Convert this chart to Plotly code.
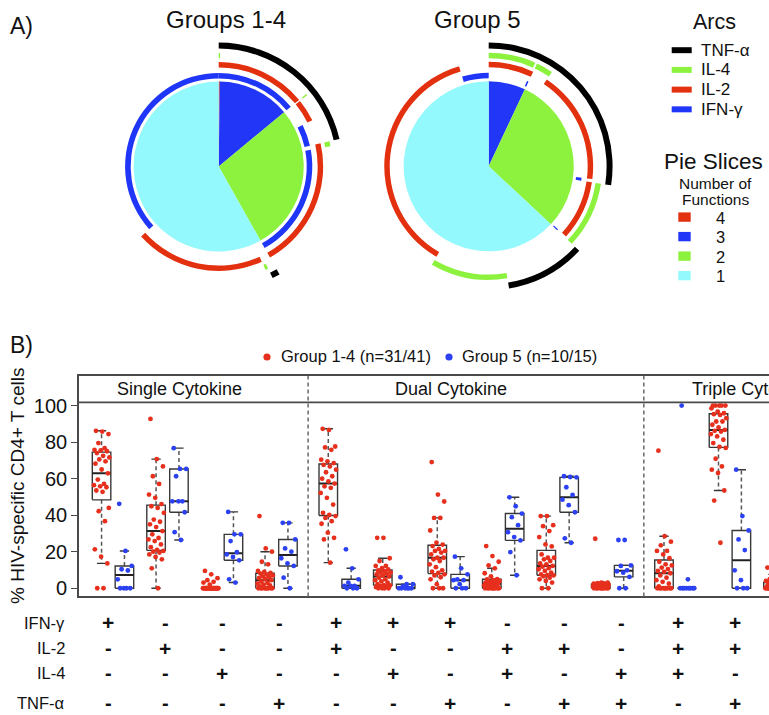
import numpy as np
import plotly.graph_objects as go

W, H = 769, 715
FONT = "Liberation Sans, Arial, Helvetica, sans-serif"

# ---------------------------------------------------------------------------
# Panel A data: share of responding cells per cytokine combination (percent),
# combinations ordered by number of functions, then TNF/IL-4/IL-2/IFN bits.
# ---------------------------------------------------------------------------
PIE_COMBOS = [
    ("IFN-γ", "IL-2", "IL-4", "TNF-α"),
    ("IL-2", "IL-4", "TNF-α"),
    ("IFN-γ", "IL-4", "TNF-α"),
    ("IFN-γ", "IL-2", "TNF-α"),
    ("IFN-γ", "IL-2", "IL-4"),
    ("IL-4", "TNF-α"),
    ("IL-2", "TNF-α"),
    ("IFN-γ", "TNF-α"),
    ("IL-2", "IL-4"),
    ("IFN-γ", "IL-4"),
    ("IFN-γ", "IL-2"),
    ("TNF-α",),
    ("IL-4",),
    ("IL-2",),
    ("IFN-γ",),
]
PIE_GROUP14 = [0.2, 0.0, 0.0, 13.8, 0.0, 0.2, 3.5, 3.75, 0.7, 0.0, 19.7, 1.0, 0.4, 20.1, 36.7]
PIE_GROUP5 = [0.0, 6.72, 0.0, 0.28, 0.0, 2.39, 17.56, 0.5, 9.28, 0.22, 0.0, 10.42, 10.97, 37.08, 4.58]
PIE_TITLES = ["Groups 1-4", "Group 5"]

ARC_ORDER = ["TNF-α", "IL-4", "IL-2", "IFN-γ"]
ARC_COLORS = {"TNF-α": "#000000", "IL-4": "#8df23e", "IL-2": "#e3300f", "IFN-γ": "#1f35f7"}
SLICE_LEVELS = [4, 3, 2, 1]
SLICE_COLORS = {4: "#e3300f", 3: "#2236f8", 2: "#8df23e", 1: "#93f9fc"}

# ---------------------------------------------------------------------------
# Panel B data: % of HIV-specific CD4+ T cells per subject for each combination
# ---------------------------------------------------------------------------
BOX_FACETS = ["Single Cytokine", "Dual Cytokine", "Triple Cytokine"]
BOX_COMBOS = [
    ("Single Cytokine", ("IFN-γ",)),
    ("Single Cytokine", ("IL-2",)),
    ("Single Cytokine", ("IL-4",)),
    ("Single Cytokine", ("TNF-α",)),
    ("Dual Cytokine", ("IFN-γ", "IL-2")),
    ("Dual Cytokine", ("IFN-γ", "IL-4")),
    ("Dual Cytokine", ("IFN-γ", "TNF-α")),
    ("Dual Cytokine", ("IL-2", "IL-4")),
    ("Dual Cytokine", ("IL-2", "TNF-α")),
    ("Dual Cytokine", ("IL-4", "TNF-α")),
    ("Triple Cytokine", ("IFN-γ", "IL-2", "IL-4")),
    ("Triple Cytokine", ("IFN-γ", "IL-2", "TNF-α")),
    ("Triple Cytokine", ("IFN-γ", "IL-4", "TNF-α")),
]
TABLE_ROWS = ["IFN-γ", "IL-2", "IL-4", "TNF-α"]
TABLE_COLUMNS = 12

G14_IFN = [0, 0, 13.6, 17.3, 21.3, 36.7, 42.2, 44.0, 52.8, 53.5, 55.3, 55.8, 56.4, 57.1, 59.5, 62.9,
           65.0, 68.2, 69.5, 70.5, 71.6, 72.5, 74.0, 75.0, 75.5, 75.8, 76.7, 79.5, 84.4, 85.8, 86.2]
G5_IFN = [0, 0, 0, 0, 4.9, 9.7, 10.4, 12.2, 20.4, 46.2]
G14_IL2 = [0, 10.9, 15.8, 17.1, 18.5, 19.5, 20.0, 20.4, 21.0, 22.5, 24.0, 25.8, 26.7, 27.5, 29.5, 31.3,
           33.5, 35.0, 36.4, 37.6, 41.3, 44.0, 44.9, 46.1, 49.5, 51.3, 57.1, 61.3, 66.7, 70.7, 92.7]
G5_IL2 = [26.4, 30.7, 41.6, 47.6, 47.6, 47.6, 61.3, 65.3, 65.3, 76.7]
G14_IL4 = [0, 0, 0, 0, 0, 0, 0, 0, 0, 0, 0, 0, 0, 0, 0, 0,
           0, 0, 0, 0, 0, 0, 0, 0, 2.0, 3.1, 3.5, 4.4, 5.5, 7.6, 9.5]
G5_IL4 = [3.1, 4.9, 15.3, 17.1, 18.5, 19.7, 25.8, 29.5, 29.5, 41.8]
G14_TNF = [0, 0, 0, 0, 0, 0, 0, 0, 0, 1.0, 1.5, 2.0, 2.5, 3.0, 3.6, 4.4,
           5.0, 5.5, 6.0, 6.5, 7.0, 7.5, 8.0, 8.4, 9.0, 9.5, 13.1, 14.5, 20.0, 21.8, 39.5]
G5_TNF = [0, 5.8, 12.2, 13.6, 16.4, 20.0, 21.8, 26.7, 35.8, 35.8]
G14_IFN_IL2 = [14.0, 26.7, 27.6, 30.4, 35.3, 36.7, 38.5, 39.5, 40.1, 41.3, 45.8, 49.5, 52.2, 55.0, 55.8, 57.3,
               58.5, 60.0, 61.3, 63.5, 64.9, 66.7, 67.5, 68.5, 69.5, 70.4, 75.8, 77.1, 77.6, 86.7, 87.3]
G5_IFN_IL2 = [0, 0, 0, 1.3, 1.3, 1.3, 3.1, 4.9, 10.9, 21.3]
G14_IFN_IL4 = [0, 0, 0, 0, 0.6, 1.0, 1.3, 1.5, 1.7, 2.2, 3.1, 3.8, 4.4, 4.9, 5.8, 6.4,
               7.0, 7.6, 8.0, 8.5, 8.5, 9.3, 9.7, 10.3, 11.0, 12.2, 12.2, 14.9, 16.4, 27.6, 27.6]
G5_IFN_IL4 = [0, 0, 0, 0, 0, 0, 1.0, 2.2, 2.2, 6.0]
G14_IFN_TNF = [0, 0, 0, 2.2, 4.9, 6.0, 7.0, 7.6, 8.4, 9.1, 9.8, 11.5, 13.1, 14.9, 15.8, 16.7,
               16.7, 18.5, 19.5, 20.4, 20.4, 21.5, 23.1, 23.9, 24.9, 31.6, 38.5, 38.5, 47.5, 51.3, 69.1]
G5_IFN_TNF = [0, 0, 0, 2.2, 4.4, 4.4, 4.9, 7.6, 10.9, 17.3]
G14_IL2_IL4 = [0, 0, 0, 0, 0, 0, 0, 0, 0, 0.5, 1.0, 1.3, 1.6, 2.0, 2.2, 2.5,
               2.8, 3.1, 3.4, 3.8, 4.0, 4.4, 4.8, 5.0, 6.5, 8.2, 10.9, 12.5, 14.5, 17.6, 23.1]
G5_IL2_IL4 = [7.1, 19.8, 26.2, 28.0, 30.7, 34.5, 38.9, 40.9, 44.9, 49.8]
G14_IL2_TNF = [0, 0, 3.1, 4.0, 4.9, 5.8, 6.5, 7.0, 7.2, 7.6, 8.5, 9.5, 10.4, 11.0, 11.8, 12.2,
               13.1, 13.6, 14.9, 15.8, 16.7, 16.7, 18.5, 22.9, 24.0, 28.0, 31.3, 34.0, 34.5, 39.5, 39.5]
G5_IL2_TNF = [24.9, 27.3, 41.6, 45.5, 48.5, 51.1, 55.3, 60.7, 60.9, 61.3]
G14_IL4_TNF = [0, 0, 0, 0, 0, 0, 0, 0, 0, 0.4, 0.6, 0.8, 1.0, 1.1, 1.2, 1.3,
               1.4, 1.5, 1.6, 1.8, 1.9, 2.0, 2.1, 2.3, 2.4, 2.5, 2.6, 2.8, 3.0, 3.1, 27.1]
G5_IL4_TNF = [0, 0, 6.2, 8.5, 9.3, 9.8, 12.2, 12.5, 26.4, 26.4]
G14_IFN_IL2_IL4 = [0, 0, 0, 0, 0, 0, 0, 0, 0, 1.0, 2.5, 3.5, 4.4, 5.8, 7.0, 8.2,
                   9.0, 9.5, 10.5, 11.3, 12.5, 13.1, 14.5, 16.4, 18.5, 20.4, 20.4, 23.5, 25.5, 28.5, 75.3]
G5_IFN_IL2_IL4 = [0, 0, 0, 0, 0, 0, 0, 0, 4.9, 100.0]
G14_IFN_IL2_TNF = [24.9, 48.0, 53.5, 63.1, 64.9, 66.7, 70.9, 76.8, 77.4, 79.5, 81.3, 83.1, 84.4, 85.8, 86.2, 86.7,
                   88.0, 89.5, 91.3, 91.3, 93.1, 94.9, 95.3, 95.8, 96.7, 98.5, 100, 100, 100, 100, 100]
G5_IFN_IL2_TNF = [0, 0, 0, 4.4, 9.8, 20.9, 26.7, 31.6, 39.5, 64.9]
G14_IFN_IL4_TNF = [0, 0, 0, 0, 0, 0, 0, 0, 0, 0, 0, 0, 0, 0, 0, 0.5,
                   0.8, 1.0, 1.5, 1.8, 2.2, 2.5, 2.9, 3.3, 3.6, 4.0, 4.4, 5.0, 6.7, 7.6, 11.3]
G5_IFN_IL4_TNF = [0, 0, 0, 0, 0, 0, 0, 0, 2.0, 5.0]

GROUP14_VALUES = [G14_IFN, G14_IL2, G14_IL4, G14_TNF, G14_IFN_IL2, G14_IFN_IL4, G14_IFN_TNF,
                  G14_IL2_IL4, G14_IL2_TNF, G14_IL4_TNF, G14_IFN_IL2_IL4, G14_IFN_IL2_TNF, G14_IFN_IL4_TNF]
GROUP5_VALUES = [G5_IFN, G5_IL2, G5_IL4, G5_TNF, G5_IFN_IL2, G5_IFN_IL4, G5_IFN_TNF,
                 G5_IL2_IL4, G5_IL2_TNF, G5_IL4_TNF, G5_IFN_IL2_IL4, G5_IFN_IL2_TNF, G5_IFN_IL4_TNF]
GROUP_NAMES = ["Group 1-4 (n=31/41)", "Group 5 (n=10/15)"]
GROUP_COLORS = ["#e6301d", "#2b41f2"]

# ---------------------------------------------------------------------------
# Layout helpers (pixel -> paper)
# ---------------------------------------------------------------------------
def px(x):
    return x / W


def py(y):
    return 1 - y / H


def label(text, x, y, size, xanchor="center", **kw):
    return dict(text=text, xref="paper", yref="paper", x=px(x), y=py(y), xanchor=xanchor,
                yanchor="middle", showarrow=False, font=dict(size=size, color="#111"), **kw)


fig = go.Figure()
annotations = []
shapes = []

# ---------------------------------------------------------------------------
# Panel A: pies drawn as polar bars (slices) with cytokine arcs around them
# ---------------------------------------------------------------------------
PIE_R = 85.4
RINGS = {"IFN-γ": (88.4, 94.0), "IL-2": (99.4, 104.9), "IL-4": (108.6, 114.1), "TNF-α": (118.4, 124.4)}
POLAR_HALF = 130.0
PIE_CENTERS = [(218.7, 167.2), (488.7, 167.0)]


def add_pie(values, subplot):
    vals = np.asarray(values, float)
    span = vals / vals.sum() * 360.0
    start = np.concatenate([[0.0], np.cumsum(span)[:-1]])
    end = start + span
    nfun = np.array([len(c) for c in PIE_COMBOS])
    # slices: one per number of functions
    for lvl in SLICE_LEVELS:
        idx = np.where((nfun == lvl) & (span > 0))[0]
        if len(idx) == 0:
            continue
        a0, a1 = start[idx[0]], end[idx[-1]]
        fig.add_trace(go.Barpolar(
            r=[PIE_R], base=[0], theta=[(a0 + a1) / 2], width=[a1 - a0],
            marker=dict(color=SLICE_COLORS[lvl], line=dict(width=0)),
            subplot=subplot, showlegend=False, hoverinfo="skip"))
    # arcs: contiguous runs of combinations that contain each cytokine
    for cyt in ARC_ORDER:
        runs = []
        for i, combo in enumerate(PIE_COMBOS):
            if cyt in combo and span[i] > 0:
                if runs and abs(runs[-1][1] - start[i]) < 1e-9:
                    runs[-1][1] = end[i]
                else:
                    runs.append([start[i], end[i]])
        r0, r1 = RINGS[cyt]
        fig.add_trace(go.Barpolar(
            r=[r1 - r0] * len(runs), base=[r0] * len(runs),
            theta=[(a + b) / 2 for a, b in runs], width=[b - a for a, b in runs],
            marker=dict(color=ARC_COLORS[cyt], line=dict(width=0)),
            subplot=subplot, showlegend=False, hoverinfo="skip"))


add_pie(PIE_GROUP14, "polar")
add_pie(PIE_GROUP5, "polar2")


def polar_layout(cx, cy):
    return dict(
        domain=dict(x=[px(cx - POLAR_HALF), px(cx + POLAR_HALF)],
                    y=[py(cy + POLAR_HALF), py(cy - POLAR_HALF)]),
        bgcolor="rgba(0,0,0,0)", barmode="overlay",
        radialaxis=dict(range=[0, POLAR_HALF], showline=False, showgrid=False,
                        showticklabels=False, ticks=""),
        angularaxis=dict(rotation=90, direction="clockwise", showline=False,
                         showgrid=False, showticklabels=False, ticks=""),
    )


# panel A titles
annotations.append(label("A)", 8, 26, 23, xanchor="left"))
for title, xc in zip(PIE_TITLES, [226, 477.5]):
    annotations.append(label(title, xc, 20, 24))

# legend for arcs
annotations.append(label("Arcs", 714, 22.5, 21.5))
for k, cyt in enumerate(ARC_ORDER):
    yc = 50.4 + 19.8 * k
    shapes.append(dict(type="rect", xref="paper", yref="paper", x0=px(671.7), x1=px(691.7),
                       y0=py(yc + 3.0), y1=py(yc - 3.0), fillcolor=ARC_COLORS[cyt], line=dict(width=0)))
    annotations.append(label(cyt, 699, yc, 17, xanchor="left"))

# legend for pie slices
annotations.append(label("Pie Slices", 713, 162.5, 22.5))
annotations.append(label("Number of", 715, 184.5, 15.5))
annotations.append(label("Functions", 715, 200.5, 15.5))
for k, lvl in enumerate(SLICE_LEVELS):
    yc = 218.0 + 19.6 * k
    shapes.append(dict(type="rect", xref="paper", yref="paper", x0=px(678.3), x1=px(690.7),
                       y0=py(yc + 4.7), y1=py(yc - 4.7), fillcolor=SLICE_COLORS[lvl], line=dict(width=0)))
    annotations.append(label(str(lvl), 720, yc + 0.5, 16.5))

# ---------------------------------------------------------------------------
# Panel B: box plots with jittered subjects
# ---------------------------------------------------------------------------
FACET_GAP = 0.16
GROUP_OFFSET = 0.21
BOX_W = 0.34
JITTER = 0.15

facet_index = {f: i for i, f in enumerate(BOX_FACETS)}
positions = np.array([i + FACET_GAP * facet_index[f] for i, (f, _) in enumerate(BOX_COMBOS)])


def fivenum(v):
    x = np.sort(np.asarray(v, float))
    n = len(x)
    n4 = np.floor((n + 3) / 2) / 2
    d = np.array([1, n4, (n + 1) / 2, n + 1 - n4, n]) - 1
    return 0.5 * (x[np.floor(d).astype(int)] + x[np.ceil(d).astype(int)])


def box_stats(v):
    x = np.asarray(v, float)
    _, q1, med, q3, _ = fivenum(x)
    iqr = q3 - q1
    inside = x[(x >= q1 - 1.5 * iqr) & (x <= q3 + 1.5 * iqr)]
    return inside.min(), q1, med, q3, inside.max()


solid_x, solid_y, med_x, med_y, dash_x, dash_y = [], [], [], [], [], []
group_points = []
for g, group_values in enumerate([GROUP14_VALUES, GROUP5_VALUES]):
    pts_x, pts_y = [], []
    for pos, vals in zip(positions, group_values):
        xc = pos + (GROUP_OFFSET if g else -GROUP_OFFSET)
        lo, q1, med, q3, hi = box_stats(vals)
        a, b = xc - BOX_W / 2, xc + BOX_W / 2
        solid_x += [a, b, b, a, a, None]
        solid_y += [q1, q1, q3, q3, q1, None]
        med_x += [a, b, None]
        med_y += [med, med, None]
        cap = BOX_W * 0.25
        solid_x += [xc - cap, xc + cap, None, xc - cap, xc + cap, None]
        solid_y += [hi, hi, None, lo, lo, None]
        dash_x += [xc, xc, None, xc, xc, None]
        dash_y += [q3, hi, None, q1, lo, None]
        n = len(vals)
        offs = ((np.arange(1, n + 1) * 0.6180339887) % 1.0 - 0.5) * 2 * JITTER
        pts_x += list(xc + offs)
        pts_y += list(vals)
    group_points.append((pts_x, pts_y))

BOX_LINE = "#383838"
fig.add_trace(go.Scatter(x=dash_x, y=dash_y, mode="lines", line=dict(color="#555555", width=1.5, dash="4px,3px"),
                         showlegend=False, hoverinfo="skip"))
fig.add_trace(go.Scatter(x=solid_x, y=solid_y, mode="lines", line=dict(color=BOX_LINE, width=1.4),
                         showlegend=False, hoverinfo="skip"))
fig.add_trace(go.Scatter(x=med_x, y=med_y, mode="lines", line=dict(color="#222222", width=2.0),
                         showlegend=False, hoverinfo="skip"))
for (xs, ys), name, col in zip(group_points, GROUP_NAMES, GROUP_COLORS):
    fig.add_trace(go.Scatter(x=xs, y=ys, mode="markers", name=name,
                             marker=dict(color=col, size=4.8, line=dict(width=0)),
                             showlegend=False))

# axes geometry
X0_PX, UNIT_PX = 113.0, 54.5
PANEL_LEFT, PANEL_TOP, PANEL_BOTTOM, STRIP_BOTTOM = 79.0, 377.7, 599.0, 404.0
Y0_PX, Y_UNIT_PX = 590.7, 1.834
x_range = [(PANEL_LEFT - X0_PX) / UNIT_PX, (W - X0_PX) / UNIT_PX]
y_range = [(Y0_PX - PANEL_BOTTOM) / Y_UNIT_PX, (Y0_PX - PANEL_TOP) / Y_UNIT_PX]
strip_y = (Y0_PX - STRIP_BOTTOM) / Y_UNIT_PX

# strip bottom line and facet separators
shapes.append(dict(type="line", xref="paper", yref="y", x0=px(PANEL_LEFT), x1=1, y0=strip_y, y1=strip_y,
                   line=dict(color="#4a4a4a", width=1.8)))
facet_of = [facet_index[f] for f, _ in BOX_COMBOS]
for i in range(1, len(BOX_COMBOS)):
    if facet_of[i] != facet_of[i - 1]:
        xm = (positions[i] + positions[i - 1]) / 2
        shapes.append(dict(type="line", xref="x", yref="y domain", x0=xm, x1=xm, y0=0, y1=1,
                           line=dict(color="#6a6a6a", width=1.5, dash="4px,3px")))

# strip labels
for facet, xl in zip(BOX_FACETS, [115, 393, 690]):
    annotations.append(label(facet, xl, 391, 18, xanchor="left"))

# y title and panel label
annotations.append(label("% HIV-specific CD4+ T cells", 18, 488, 19, textangle=-90))
annotations.append(label("B)", 8, 346, 23, xanchor="left"))

# group legend
for name, col, xd, xt in zip(GROUP_NAMES, GROUP_COLORS, [267, 449], [279, 460]):
    shapes.append(dict(type="circle", xref="paper", yref="paper", x0=px(xd - 3.6), x1=px(xd + 3.6),
                       y0=py(358.5 + 3.6), y1=py(358.5 - 3.6), fillcolor=col, line=dict(width=0)))
    annotations.append(label(name, xt, 357, 16.5, xanchor="left"))

# cytokine +/- table
TABLE_X0, TABLE_DX = 108.3, 57.0
TABLE_Y = [625.5, 650.8, 676.0, 706.0]
for r, (cyt, yr) in enumerate(zip(TABLE_ROWS, TABLE_Y)):
    annotations.append(label(cyt, 66.7, yr, 16.5, xanchor="right"))
    for c in range(TABLE_COLUMNS):
        combo = BOX_COMBOS[c][1]
        sign = "+" if cyt in combo else "-"
        annotations.append(label("<b>%s</b>" % sign, TABLE_X0 + TABLE_DX * c, yr,
                                 21 if sign == "+" else 20))

fig.update_layout(
    width=W, height=H, margin=dict(l=0, r=0, t=0, b=0),
    paper_bgcolor="white", plot_bgcolor="white",
    font=dict(family=FONT, color="#111"),
    showlegend=False,
    polar=polar_layout(*PIE_CENTERS[0]),
    polar2=polar_layout(*PIE_CENTERS[1]),
    xaxis=dict(domain=[px(PANEL_LEFT), 1], range=x_range, showgrid=False, zeroline=False,
               showticklabels=False, ticks="", showline=True, mirror=True,
               linecolor="#4a4a4a", linewidth=1.6),
    yaxis=dict(domain=[py(PANEL_BOTTOM), py(PANEL_TOP)], range=y_range, showgrid=False, zeroline=False,
               tickmode="array", tickvals=[0, 20, 40, 60, 80, 100], ticks="outside", ticklen=6,
               tickwidth=1.4, tickcolor="#4a4a4a", showline=True, linecolor="#4a4a4a", linewidth=1.6,
               tickfont=dict(size=20, color="#111")),
    annotations=annotations,
    shapes=shapes,
)

fig.write_html("out.html")
